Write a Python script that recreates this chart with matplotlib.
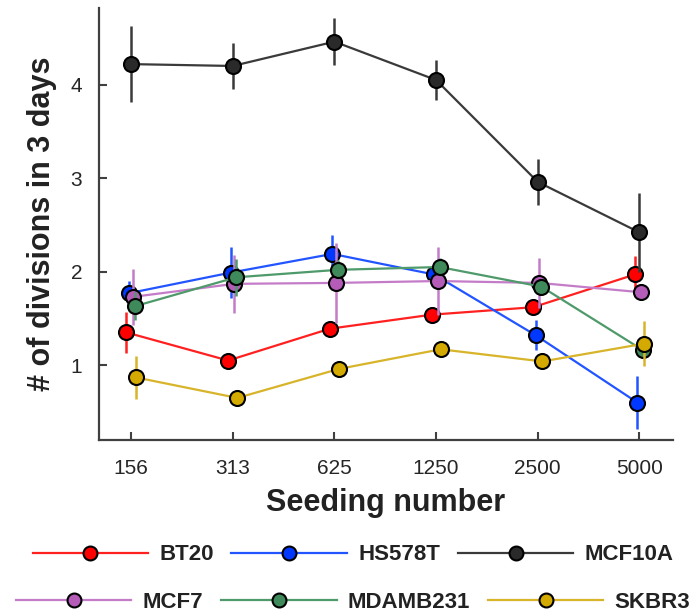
import matplotlib
matplotlib.use("Agg")
import matplotlib.pyplot as plt
from matplotlib.lines import Line2D
import numpy as np

plt.rcParams['font.family'] = ['Liberation Sans', 'DejaVu Sans']

seeding = ["156", "313", "625", "1250", "2500", "5000"]
series_names = ["BT20", "HS578T", "MCF10A", "MCF7", "MDAMB231", "SKBR3"]

bt20 = [1.35, 1.05, 1.39, 1.54, 1.62, 1.97]
hs578t = [1.77, 1.99, 2.19, 1.97, 1.32, 0.60]
mcf10a = [4.22, 4.20, 4.46, 4.05, 2.96, 2.42]
mcf7 = [1.73, 1.87, 1.88, 1.90, 1.88, 1.78]
mdamb231 = [1.63, 1.94, 2.02, 2.05, 1.84, 1.16]
skbr3 = [0.87, 0.65, 0.96, 1.17, 1.04, 1.23]

bt20_err = [0.22, 0.05, 0.08, 0.08, 0.08, 0.20]
hs578t_err = [0.13, 0.27, 0.20, 0.10, 0.16, 0.28]
mcf10a_err = [0.41, 0.25, 0.25, 0.21, 0.25, 0.42]
mcf7_err = [0.30, 0.31, 0.43, 0.36, 0.27, 0.05]
mdamb231_err = [0.15, 0.20, 0.10, 0.10, 0.08, 0.08]
skbr3_err = [0.23, 0.05, 0.05, 0.05, 0.05, 0.24]

values = [bt20, hs578t, mcf10a, mcf7, mdamb231, skbr3]
errors = [bt20_err, hs578t_err, mcf10a_err, mcf7_err, mdamb231_err, skbr3_err]

line_colors = ["#FF2020", "#2255FF", "#3A3A3A", "#C47CC8", "#4E9A6A", "#D8B42A"]
face_colors = ["#FF0000", "#0038FF", "#2A2A2A", "#B45CB8", "#3F8A5B", "#D4AA00"]
x_offsets = [-0.045, -0.02, 0.0, 0.015, 0.035, 0.045]

fig = plt.figure(figsize=(6.97, 6.12), dpi=100)
ax = fig.add_axes([99/697, 1-440/612, (673-99)/697, (440-8)/612])

x = np.arange(len(seeding))
for vals, errs, lc, fc, off in zip(values, errors, line_colors, face_colors, x_offsets):
    xs = x + off
    ax.errorbar(xs, vals, yerr=errs, fmt='none', ecolor=lc, elinewidth=1.8, capsize=0)
    ax.plot(xs, vals, '-', color=lc, lw=1.6, marker='o', markersize=10.8,
            markerfacecolor=fc, markeredgecolor='black', markeredgewidth=1.5)

ax.set_xlim(-0.315, 5.33)
ax.set_ylim(0.2, 4.82)
ax.set_xticks(x)
ax.set_xticklabels(seeding)
ax.set_yticks([1, 2, 3, 4])
ax.set_yticklabels(["1", "2", "3", "4"])

for s in ['top', 'right']:
    ax.spines[s].set_visible(False)
for s in ['left', 'bottom']:
    ax.spines[s].set_color('#404040')
    ax.spines[s].set_linewidth(1.6)
ax.tick_params(direction='in', length=6, width=1.5, color='#404040',
               labelsize=15, labelcolor='#262626')
ax.tick_params(axis='x', pad=14)
ax.tick_params(axis='y', pad=12)

ax.set_xlabel("Seeding number", fontsize=22, fontweight='bold', color='#222222', labelpad=7)
ax.set_ylabel("# of divisions in 3 days", fontsize=22, fontweight='bold', color='#222222', labelpad=10)

handles = []
for name, lc, fc in zip(series_names, line_colors, face_colors):
    handles.append(Line2D([], [], color=lc, lw=1.6, marker='o', markersize=10,
                          markerfacecolor=fc, markeredgecolor='black', markeredgewidth=1.5,
                          label=name))

leg_kw = dict(ncol=3, frameon=False, handlelength=5.2, handletextpad=0.5,
              columnspacing=0.8, prop={'size': 16, 'weight': 'bold'}, loc='center',
              borderpad=0, borderaxespad=0)
leg1 = fig.legend(handles=handles[:3], bbox_to_anchor=(353/697, 1-555/612), **leg_kw)
for t in leg1.get_texts():
    t.set_color('#222222')
leg2 = fig.legend(handles=handles[3:], bbox_to_anchor=(353/697, 1-602/612), **leg_kw)
for t in leg2.get_texts():
    t.set_color('#222222')

fig.savefig("out.png", dpi=100)
